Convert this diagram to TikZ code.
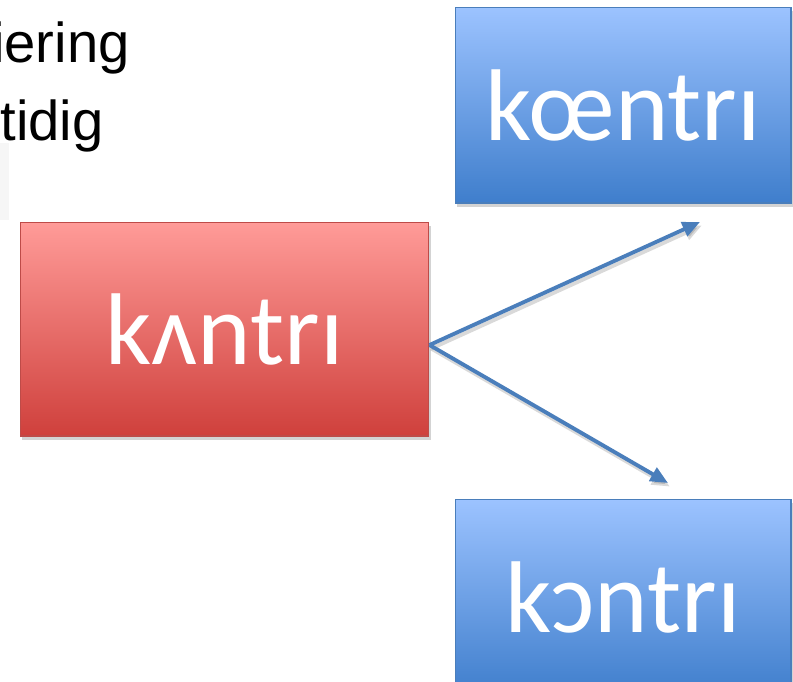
\documentclass[tikz,border=0pt]{standalone}
\usepackage{fontspec}
\setmainfont{Liberation Sans}
\newfontfamily\ipafont{Carlito}
\usetikzlibrary{arrows.meta}
\usetikzlibrary{shadows}
\usetikzlibrary{positioning}
\definecolor{redtop}{HTML}{FF9B98}
\definecolor{redbot}{HTML}{CF403C}
\definecolor{redline}{HTML}{BE4B48}
\definecolor{bluetop}{HTML}{9CC3FF}
\definecolor{bluebot}{HTML}{3F7ECC}
\definecolor{blueline}{HTML}{4A7EBB}
\tikzset{
	word node/.style={rectangle,draw,line width=0.6pt,text=white,
		font=\ipafont\fontsize{58}{60}\selectfont,
		drop shadow={shadow xshift=1pt,shadow yshift=-2.5pt,opacity=0.35}},
	red box/.style={word node,draw=redline,top color=redtop,bottom color=redbot,
		minimum width=8.18cm,minimum height=4.28cm},
	blue box/.style={word node,draw=blueline,top color=bluetop,bottom color=bluebot,
		minimum width=6.72cm,minimum height=3.92cm},
	bullet text/.style={anchor=base east,inner sep=0pt,font=\fontsize{32}{36}\selectfont},
	link/.style={-{Triangle[length=10pt,width=8.5pt]},draw=blueline,line width=2.2pt}
}

\begin{document}
\begin{tikzpicture}[x=0.02cm,y=-0.02cm]
	\useasboundingbox (0,0) rectangle (793,681);
	\clip (0,0) rectangle (793,681);
	\fill[gray!7] (0,143) rectangle (9,220);
	\node [bullet text] (line1) at (130,62) {iering};
	\node [bullet text] (line2) at (104,140) {ntidig};
	\node [red box] (kantri) at (224.5,329) {kʌntrı};
	\node [blue box] (kaentri) at (623,105) {kœntrı};
	\node [blue box] (kontri) at (623,597) {kɔntrı};
	\coordinate (uptip) at (700,222);
	\coordinate (downtip) at (668,483);
	% arrows with a faint shadow
	\draw [link,draw=black,opacity=0.15,transform canvas={xshift=1pt,yshift=-2pt}]
		([yshift=-0.32cm]kantri.east) -- (uptip);
	\draw [link,draw=black,opacity=0.15,transform canvas={xshift=1pt,yshift=-2pt}]
		([yshift=-0.32cm]kantri.east) -- (downtip);
	\draw [link] ([yshift=-0.32cm]kantri.east) -- (uptip);
	\draw [link] ([yshift=-0.32cm]kantri.east) -- (downtip);
\end{tikzpicture}
\end{document}
